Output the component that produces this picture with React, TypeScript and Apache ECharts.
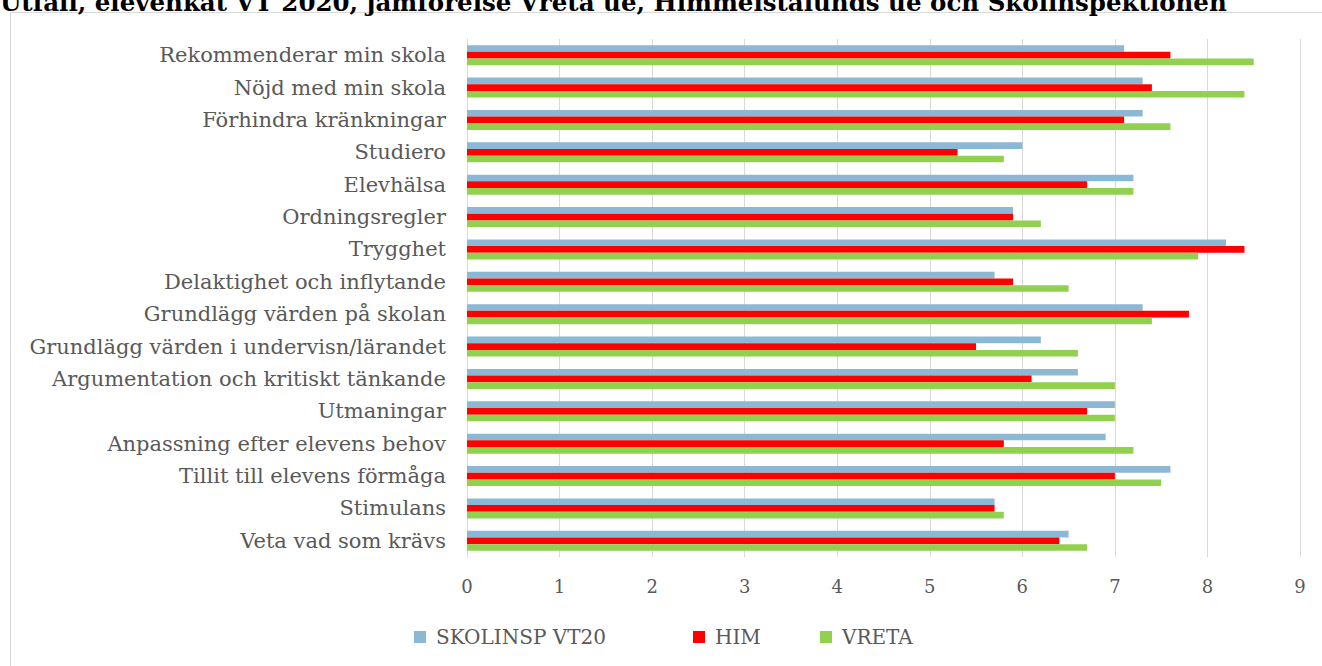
import React, { useEffect, useRef } from "react";
import * as echarts from "echarts";

const title = "Utfall, elevenkät VT 2020, jämförelse Vreta ue, Himmelstalunds ue och Skolinspektionen";

const categories = [
  "Rekommenderar min skola",
  "Nöjd med min skola",
  "Förhindra kränkningar",
  "Studiero",
  "Elevhälsa",
  "Ordningsregler",
  "Trygghet",
  "Delaktighet och inflytande",
  "Grundlägg värden på skolan",
  "Grundlägg värden i undervisn/lärandet",
  "Argumentation och kritiskt tänkande",
  "Utmaningar",
  "Anpassning efter elevens behov",
  "Tillit till elevens förmåga",
  "Stimulans",
  "Veta vad som krävs",
];

const skolinsp = [7.1, 7.3, 7.3, 6.0, 7.2, 5.9, 8.2, 5.7, 7.3, 6.2, 6.6, 7.0, 6.9, 7.6, 5.7, 6.5];
const him = [7.6, 7.4, 7.1, 5.3, 6.7, 5.9, 8.4, 5.9, 7.8, 5.5, 6.1, 6.7, 5.8, 7.0, 5.7, 6.4];
const vreta = [8.5, 8.4, 7.6, 5.8, 7.2, 6.2, 7.9, 6.5, 7.4, 6.6, 7.0, 7.0, 7.2, 7.5, 5.8, 6.7];

const seriesNames = ["SKOLINSP VT20", "HIM", "VRETA"];
const colors = ["#8BB9D5", "#FF0000", "#92D050"];
const legendLefts = [414, 693, 820];

const FONT = "'DejaVu Serif', 'Liberation Serif', serif";

export default function App() {
  const ref = useRef<HTMLDivElement>(null);
  useEffect(() => {
    if (!ref.current) return;
    const chart = echarts.init(ref.current, undefined, { renderer: "svg" });
    const data = [skolinsp, him, vreta];
    chart.setOption({
      animation: false,
      backgroundColor: "#ffffff",
      graphic: [
        {
          type: "rect",
          shape: { x: 10.5, y: 12.5, width: 1330, height: 680 },
          style: { fill: "none", stroke: "#d9d9d9", lineWidth: 1 },
          silent: true,
        },
        {
          type: "text",
          x: 0,
          y: -10,
          style: {
            text: title,
            font: "bold 24.5px " + FONT,
            fill: "#000000",
          },
          silent: true,
        },
      ],
      legend: seriesNames.map((name, i) => ({
        data: [name],
        left: legendLefts[i],
        top: 627,
        padding: 0,
        itemWidth: 12,
        itemHeight: 12,
        icon: "rect",
        textStyle: { fontFamily: FONT, fontSize: 20, color: "#595959", padding: [0, 0, 0, 5] },
      })),
      grid: { left: 467, right: 22, top: 39, height: 518, containLabel: false },
      xAxis: {
        type: "value",
        min: 0,
        max: 9,
        interval: 1,
        axisLine: { show: false },
        axisTick: { show: false },
        splitLine: { lineStyle: { color: "#d9d9d9", width: 1 } },
        axisLabel: { fontFamily: FONT, fontSize: 18, color: "#595959", margin: 20 },
      },
      yAxis: {
        type: "category",
        data: categories,
        inverse: true,
        axisLine: { show: true, lineStyle: { color: "#d9d9d9" } },
        axisTick: { show: false },
        axisLabel: { fontFamily: FONT, fontSize: 21, color: "#595959", margin: 21 },
      },
      series: seriesNames.map((name, i) => ({
        name,
        type: "bar",
        data: data[i],
        itemStyle: { color: colors[i] },
        barGap: "0%",
        barCategoryGap: "38%",
      })),
    });
    return () => chart.dispose();
  }, []);
  return (
    <div
      ref={ref}
      style={{ position: "fixed", left: 0, top: 0, width: 1322, height: 666 }}
    />
  );
}
